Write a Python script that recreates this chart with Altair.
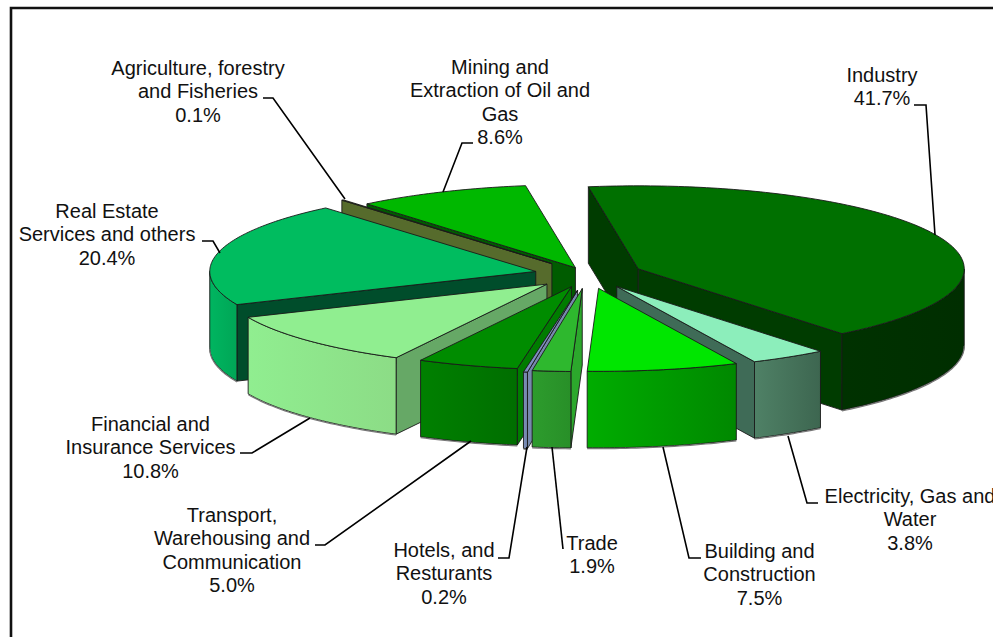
import math
import altair as alt

# Sector shares in percent, clockwise from the first slice
sectors = ["Industry", "Electricity", "Building", "Trade", "Hotels",
           "Transport", "Financial", "RealEstate", "Agriculture", "Mining"]
shares = [41.7, 3.8, 7.5, 1.9, 0.2, 5.0, 10.8, 20.4, 0.1, 8.6]
explode = [0.17, 0.17, 0.17, 0.17, 0.19, 0.155, 0.17, 0.163, 0.17, 0.09]

# Label lines for each sector
label_lines = {
    "Industry": ["Industry", "41.7%"],
    "Electricity": ["Electricity, Gas and", "Water", "3.8%"],
    "Building": ["Building and", "Construction", "7.5%"],
    "Trade": ["Trade", "1.9%"],
    "Hotels": ["Hotels, and", "Resturants", "0.2%"],
    "Transport": ["Transport,", "Warehousing and", "Communication", "5.0%"],
    "Financial": ["Financial and", "Insurance Services", "10.8%"],
    "RealEstate": ["Real Estate", "Services and others", "20.4%"],
    "Agriculture": ["Agriculture, forestry", "and Fisheries", "0.1%"],
    "Mining": ["Mining and", "Extraction of Oil and", "Gas", "8.6%"],
}
# Centre x and first baseline of each label block
label_anchor = {
    "Industry": (882, 82), "Electricity": (910, 503), "Building": (759.5, 558),
    "Trade": (592, 550), "Hotels": (444, 557), "Transport": (232, 522),
    "Financial": (150.5, 431), "RealEstate": (107, 218),
    "Agriculture": (198, 75), "Mining": (500, 74),
}
# Leader lines from each slice to its label
leaders = {
    "Industry": [(914, 105), (926, 105), (935, 235)],
    "Electricity": [(788, 436), (807, 503), (818, 503)],
    "Building": [(663, 447), (689, 558), (701, 558)],
    "Trade": [(552, 447), (563, 549)],
    "Hotels": [(527, 447), (509, 558), (498, 558)],
    "Transport": [(471, 441), (325, 545), (315, 545)],
    "Financial": [(310, 418), (252, 453), (240, 453)],
    "RealEstate": [(220, 253), (213, 241), (202, 241)],
    "Agriculture": [(263, 98), (273, 98), (345, 199)],
    "Mining": [(443, 192), (462, 143), (473, 143)],
}
# Colours: top face, rim wall (left, right), radial wall
palette = {
    "Industry": ("#007000", "#003200", "#002e00", "#003c00"),
    "Electricity": ("#8ceebb", "#4f8166", "#3d6650", "#3f6b57"),
    "Building": ("#00e600", "#00ad00", "#008800", "#008800"),
    "Trade": ("#2eb82e", "#2d9c2d", "#288f28", "#2ca82c"),
    "Hotels": ("#7d8fc0", "#7d90b8", "#6f82a8", "#7689ad"),
    "Transport": ("#008c00", "#008000", "#006e00", "#007c00"),
    "Financial": ("#90ee90", "#90ee90", "#8cdc86", "#66a866"),
    "RealEstate": ("#00bc5f", "#00b560", "#00a656", "#004d2b"),
    "Agriculture": ("#566b2c", "#566b2c", "#566b2c", "#566b2c"),
    "Mining": ("#00b800", "#005c00", "#005c00", "#005c00"),
}

# Elliptical pie geometry
CX, CY = 587.5, 274.5
RX, RY, DEPTH = 326, 83, 76.5
FIRST_ANGLE = -8.8
EDGE = "#1a1a1a"
FONT = "Liberation Sans"


def rim(apex, deg, drop=0):
    t = math.radians(deg)
    return [apex[0] + RX * math.sin(t), apex[1] - RY * math.cos(t) + drop]


def arc(apex, a0, a1, drop=0):
    n = max(2, int(abs(a1 - a0)) + 2)
    return [rim(apex, a0 + (a1 - a0) * i / (n - 1), drop) for i in range(n)]


def shape(geometry, **mark):
    data = alt.Data(values=[{"type": "Feature", "properties": {}, "geometry": geometry}])
    return alt.Chart(data).mark_geoshape(**mark).encode().project(
        type="identity", scale=1, translate=[0, 0])


def polygon(points, fill, width=0.9):
    ring = [list(p) for p in points] + [list(points[0])]
    return shape({"type": "Polygon", "coordinates": [ring]},
                 filled=True, fill=fill, stroke=EDGE, strokeWidth=width)


def line(points, color="black", width=1.6):
    return shape({"type": "LineString", "coordinates": [list(p) for p in points]},
                 filled=False, stroke=color, strokeWidth=width)


def slice_layers(name, start, end, ex):
    top, rim_l, rim_r, radial = palette[name]
    mid = math.radians((start + end) / 2)
    apex = (CX + ex * RX * math.sin(mid), CY - ex * RY * math.cos(mid))
    low = (apex[0], apex[1] + DEPTH)
    out = []
    # Radial walls that face the viewer
    if math.sin(math.radians(start)) < 0:
        a, b = rim(apex, start), rim(apex, start, DEPTH)
        out.append(polygon([apex, a, b, low], radial))
    if math.sin(math.radians(end)) > 0:
        a, b = rim(apex, end), rim(apex, end, DEPTH)
        out.append(polygon([apex, a, b, low], radial))
    # Curved outer wall on the front half of the ellipse
    f0, f1 = max(start, 90), min(end, 270)
    if f0 < f1:
        pts = arc(apex, f0, f1) + arc(apex, f1, f0, DEPTH)
        fill = alt.LinearGradient(
            gradient="linear", x1=0, x2=1, y1=0, y2=0,
            stops=[alt.GradientStop(color=rim_l, offset=0),
                   alt.GradientStop(color=rim_r, offset=1)])
        out.append(polygon(pts, fill))
        out.append(line(arc(apex, f0, f1, DEPTH + 0.8), "#777777", 1.2))
    # Top face
    out.append(polygon([apex] + arc(apex, start, end), top))
    return out


# Angular extent of every slice
extents = {}
angle = FIRST_ANGLE
for name, share, ex in zip(sectors, shares, explode):
    sweep = share * 3.6
    extents[name] = (angle, angle + sweep, ex)
    angle += sweep

layers = []
# Painted back to front
for name in ["Mining", "Agriculture", "Industry", "RealEstate", "Electricity",
             "Financial", "Building", "Transport", "Hotels", "Trade"]:
    layers += slice_layers(name, *extents[name])

# Leader lines
for name in sectors:
    layers.append(line(leaders[name]))

# Frame around the drawing
layers.append(line([(11, 637), (11, 8), (993, 8)], "#111111", 2.6))

# Label text
rows = []
for name in sectors:
    x, y = label_anchor[name]
    for i, text in enumerate(label_lines[name]):
        rows.append({"x": x, "y": y + i * 23.3, "text": text})
labels = alt.Chart(alt.Data(values=rows)).mark_text(
    font=FONT, fontSize=20, align="center", baseline="alphabetic", color="#111111"
).encode(longitude="x:Q", latitude="y:Q", text="text:N").project(
    type="identity", scale=1, translate=[0, 0])
layers.append(labels)

chart = alt.layer(*layers).properties(
    width=993, height=637, padding=0,
    autosize=alt.AutoSizeParams(type="none"),
    background="white",
).configure_view(stroke=None)

chart.save("out.html", embed_options={"renderer": "svg", "actions": False})
